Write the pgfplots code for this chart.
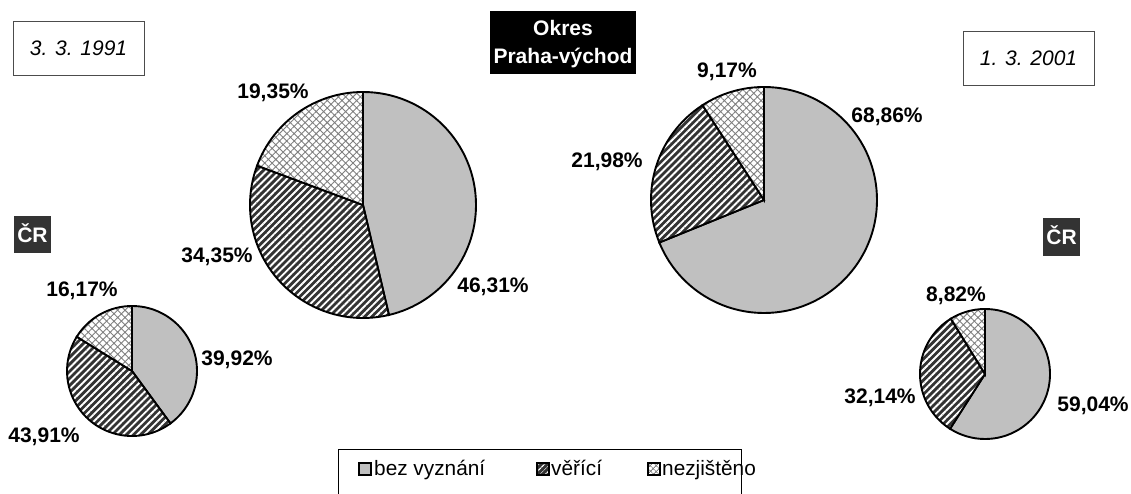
\documentclass[border=0pt]{standalone}
\usepackage{pgfplots}
\pgfplotsset{compat=1.18}
\usetikzlibrary{patterns.meta}
\usepackage{fontspec}
\setmainfont{Liberation Sans}
\definecolor{piegray}{HTML}{C0C0C0}
\definecolor{darkfill}{HTML}{333333}
\newcommand\lbl{\fontsize{21}{24}\bfseries\selectfont}
\newcommand\txt{\fontsize{21}{24}\selectfont}
\newcommand\lgd{\fontsize{20.8}{24}\selectfont}
\newcommand{\pieslice}[6]{%
  \ifcase#6
    \filldraw[fill=piegray,draw=black,line width=1.9pt] (axis cs:{#1+#3*cos(#4)},{#2+#3*sin(#4)}) arc[start angle=#4, end angle=#5, radius=#3pt] -- (axis cs:#1,#2) -- cycle;
  \or
    \fill[darkfill] (axis cs:{#1+#3*cos(#4)},{#2+#3*sin(#4)}) arc[start angle=#4, end angle=#5, radius=#3pt] -- (axis cs:#1,#2) -- cycle;
    \fill[pattern={Lines[angle=45,distance=5pt,line width=1.9pt]},pattern color=white] (axis cs:{#1+#3*cos(#4)},{#2+#3*sin(#4)}) arc[start angle=#4, end angle=#5, radius=#3pt] -- (axis cs:#1,#2) -- cycle;
    \draw[line width=1.9pt] (axis cs:{#1+#3*cos(#4)},{#2+#3*sin(#4)}) arc[start angle=#4, end angle=#5, radius=#3pt] -- (axis cs:#1,#2) -- cycle;
  \or
    \fill[white] (axis cs:{#1+#3*cos(#4)},{#2+#3*sin(#4)}) arc[start angle=#4, end angle=#5, radius=#3pt] -- (axis cs:#1,#2) -- cycle;
    \fill[pattern={Hatch[angle=45,distance=5.2pt,line width=0.9pt]},pattern color=gray] (axis cs:{#1+#3*cos(#4)},{#2+#3*sin(#4)}) arc[start angle=#4, end angle=#5, radius=#3pt] -- (axis cs:#1,#2) -- cycle;
    \draw[line width=1.9pt] (axis cs:{#1+#3*cos(#4)},{#2+#3*sin(#4)}) arc[start angle=#4, end angle=#5, radius=#3pt] -- (axis cs:#1,#2) -- cycle;
  \fi}
% \pie{cx}{cy}{r}{bez vyznani}{verici}{nezjisteno}
\newcommand{\pie}[6]{%
  \pieslice{#1}{#2}{#3}{90}{90-3.6*#4}{0}
  \pieslice{#1}{#2}{#3}{90-3.6*#4}{90-3.6*(#4+#5)}{1}
  \pieslice{#1}{#2}{#3}{90-3.6*(#4+#5)}{-270}{2}}
\begin{document}
\begin{tikzpicture}
\useasboundingbox (0,0) rectangle (1131pt,494pt);
\begin{axis}[x=1pt,y=1pt,xmin=0,xmax=1131,ymin=0,ymax=494,hide axis,clip=false,
  at={(0,0)},anchor=south west]
% Okres Praha-vychod 1991
\pie{363}{289}{113}{46.31}{34.35}{19.35}
% Okres Praha-vychod 2001
\pie{764}{294}{113}{68.86}{21.98}{9.17}
% CR 1991
\pie{132}{123}{65}{39.92}{43.91}{16.17}
% CR 2001
\pie{985}{120}{65}{59.04}{32.14}{8.82}
% value labels
\node[font=\lbl] at (axis cs:493,207) {46,31\%};
\node[font=\lbl] at (axis cs:217,237) {34,35\%};
\node[font=\lbl] at (axis cs:273,401.5) {19,35\%};
\node[font=\lbl] at (axis cs:887,377) {68,86\%};
\node[font=\lbl] at (axis cs:607,332) {21,98\%};
\node[font=\lbl] at (axis cs:727,422) {9,17\%};
\node[font=\lbl] at (axis cs:237,134) {39,92\%};
\node[font=\lbl] at (axis cs:82,203) {16,17\%};
\node[font=\lbl] at (axis cs:44,57) {43,91\%};
\node[font=\lbl] at (axis cs:956,198) {8,82\%};
\node[font=\lbl] at (axis cs:880,96) {32,14\%};
\node[font=\lbl] at (axis cs:1093,88) {59,04\%};
% title boxes
\draw[draw=black!70,line width=0.8pt] (axis cs:13,419) rectangle (axis cs:144,473);
\node[font=\txt\itshape] at (axis cs:78.5,446) {3. 3. 1991};
\draw[draw=black!70,line width=0.8pt] (axis cs:963,409) rectangle (axis cs:1094,463);
\node[font=\txt\itshape] at (axis cs:1028.5,436) {1. 3. 2001};
\fill[black] (axis cs:490,420) rectangle (axis cs:636,483);
\node[font=\lbl,text=white] at (axis cs:563,466) {Okres};
\node[font=\lbl,text=white] at (axis cs:563,436.5) {Praha-východ};
\fill[darkfill] (axis cs:14,241) rectangle (axis cs:51,278);
\node[font=\lbl,text=white,anchor=base] at (axis cs:32.5,251.5) {ČR};
\fill[darkfill] (axis cs:1043,238) rectangle (axis cs:1080,276);
\node[font=\lbl,text=white,anchor=base] at (axis cs:1061.5,249) {ČR};
% legend
\draw[line width=0.9pt] (axis cs:338,-2) -- (axis cs:338,45) -- (axis cs:741,45) -- (axis cs:741,-2);
\filldraw[fill=piegray,draw=black,line width=1.3pt] (axis cs:359,19) rectangle (axis cs:371,31);
\node[font=\lgd,anchor=base west,inner sep=0pt] at (axis cs:374,18.5) {bez vyznání};
\fill[darkfill] (axis cs:537,19) rectangle (axis cs:549,31);
\fill[pattern={Lines[angle=45,distance=4pt,line width=1.3pt]},pattern color=white] (axis cs:537,19) rectangle (axis cs:549,31);
\draw[line width=1.3pt] (axis cs:537,19) rectangle (axis cs:549,31);
\node[font=\lgd,anchor=base west,inner sep=0pt] at (axis cs:551,18.5) {věřící};
\fill[white] (axis cs:648,19) rectangle (axis cs:660,31);
\fill[pattern={Hatch[angle=45,distance=4pt,line width=0.8pt]},pattern color=gray] (axis cs:648,19) rectangle (axis cs:660,31);
\draw[line width=1.3pt] (axis cs:648,19) rectangle (axis cs:660,31);
\node[font=\lgd,anchor=base west,inner sep=0pt] at (axis cs:662,18.5) {nezjištěno};
\end{axis}
\end{tikzpicture}
\end{document}
